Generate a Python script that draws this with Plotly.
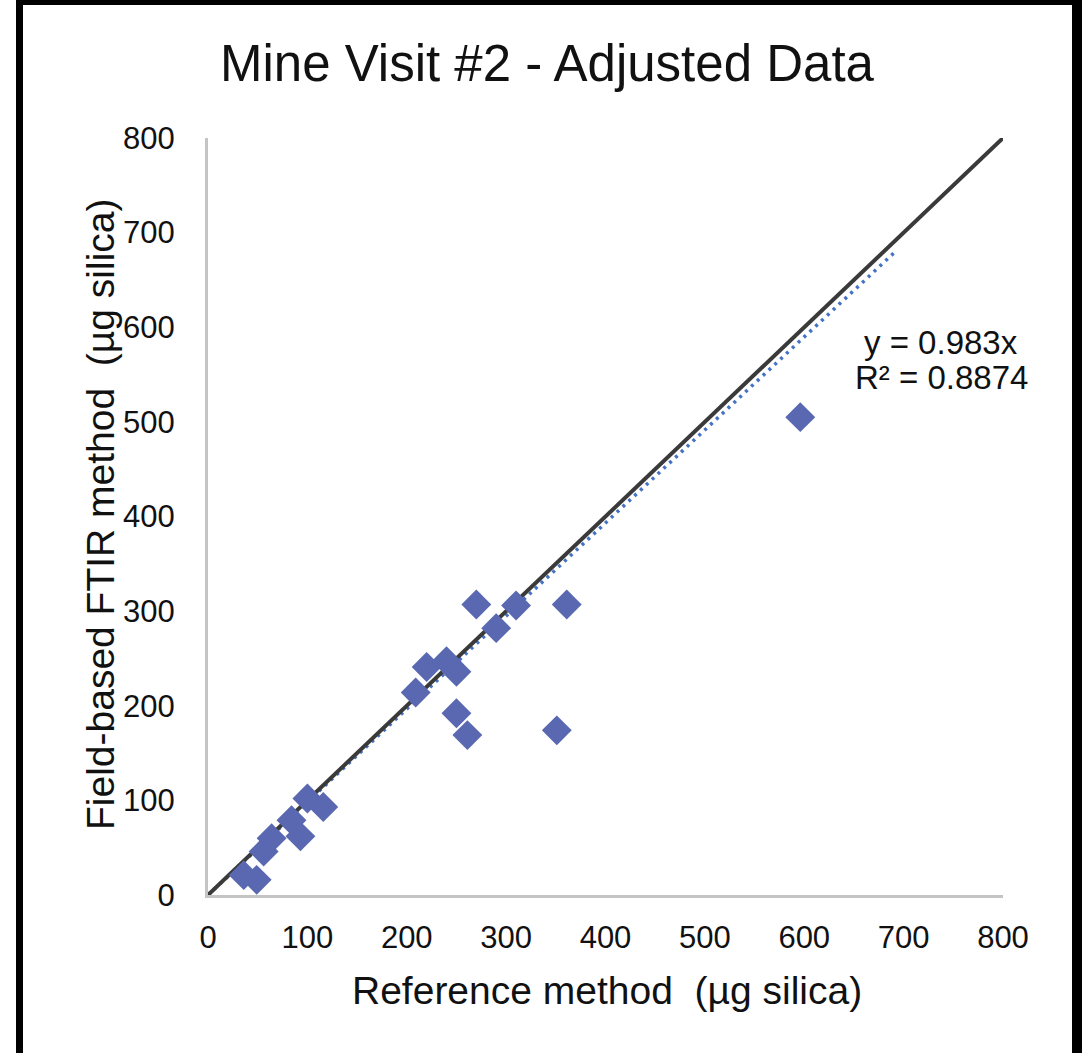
import plotly.graph_objects as go

# Sample results: reference method vs. field-based FTIR (µg silica)
reference_ug = [36, 49, 56, 64, 84, 93, 100, 116, 209, 220, 240, 250, 250, 261, 270, 290, 310, 351, 361, 596]
ftir_ug = [21, 16, 46, 60, 79, 62, 102, 93, 214, 241, 247, 236, 192, 169, 307, 282, 306, 174, 307, 505]

# Fitted trendline through the origin
trend_slope = 0.983
trend_r2 = 0.8874
trend_x = [0, 692]

# One-to-one reference line
identity_x = [0, 800]

tick_vals = [0, 100, 200, 300, 400, 500, 600, 700, 800]

W, H = 1082, 1053
L, R, T, B = 208, 79, 138, 158
PW, PH = W - L - R, H - T - B


def px_x(p):
    return (p - L) / PW


def px_y(p):
    return (H - B - p) / PH


FONT = "Liberation Sans, Arial, sans-serif"

fig = go.Figure()

fig.add_trace(go.Scatter(
    x=trend_x, y=[trend_slope * v for v in trend_x], mode="lines",
    line=dict(color="#4472C4", width=3.5, dash="3px,5px"),
    hoverinfo="skip", showlegend=False,
))
fig.add_trace(go.Scatter(
    x=identity_x, y=identity_x, mode="lines",
    line=dict(color="#3a3a3a", width=4),
    hoverinfo="skip", showlegend=False,
))
fig.add_trace(go.Scatter(
    x=reference_ug, y=ftir_ug, mode="markers",
    marker=dict(symbol="diamond", size=23, color="rgb(89,104,177)", line=dict(width=0)),
    showlegend=False,
))

axis_common = dict(
    range=[0, 800], tickvals=tick_vals, showgrid=False, zeroline=False,
    showline=True, linecolor="#c4c4c4", linewidth=3, ticks="",
    tickfont=dict(family=FONT, size=31, color="#111111"),
)

fig.update_layout(
    width=W, height=H,
    margin=dict(l=L, r=R, t=T, b=B),
    paper_bgcolor="white", plot_bgcolor="white",
    xaxis=dict(**axis_common, ticklabelstandoff=13),
    yaxis=dict(**axis_common, ticklabelstandoff=24),
    showlegend=False,
)

annotations = [
    dict(text="Mine Visit #2 - Adjusted Data", x=px_x(547), y=px_y(64),
         font=dict(family=FONT, size=51, color="#111111")),
    dict(text="Reference method  (µg silica)", x=px_x(607), y=px_y(990),
         font=dict(family=FONT, size=39, color="#111111")),
    dict(text="Field-based FTIR method  (µg silica)", x=px_x(100), y=px_y(514),
         textangle=-90, font=dict(family=FONT, size=39, color="#111111")),
    dict(text=f"y = {trend_slope}x", x=px_x(941), y=px_y(342),
         font=dict(family=FONT, size=33, color="#111111")),
    dict(text=f"R² = {trend_r2}", x=px_x(941), y=px_y(377),
         font=dict(family=FONT, size=33, color="#111111")),
]
for a in annotations:
    a.update(xref="paper", yref="paper", showarrow=False,
             xanchor="center", yanchor="middle")
fig.update_layout(annotations=annotations)

# Black frame around the chart
frame = [
    (16, 0, 23, H),
    (16, 0, W, 5),
    (1072, 0, W, H),
]
fig.update_layout(shapes=[
    dict(type="rect", xref="paper", yref="paper",
         x0=px_x(x0), x1=px_x(x1), y0=px_y(y1), y1=px_y(y0),
         fillcolor="black", line=dict(width=0), layer="above")
    for x0, y0, x1, y1 in frame
])

fig.write_html("out.html")
